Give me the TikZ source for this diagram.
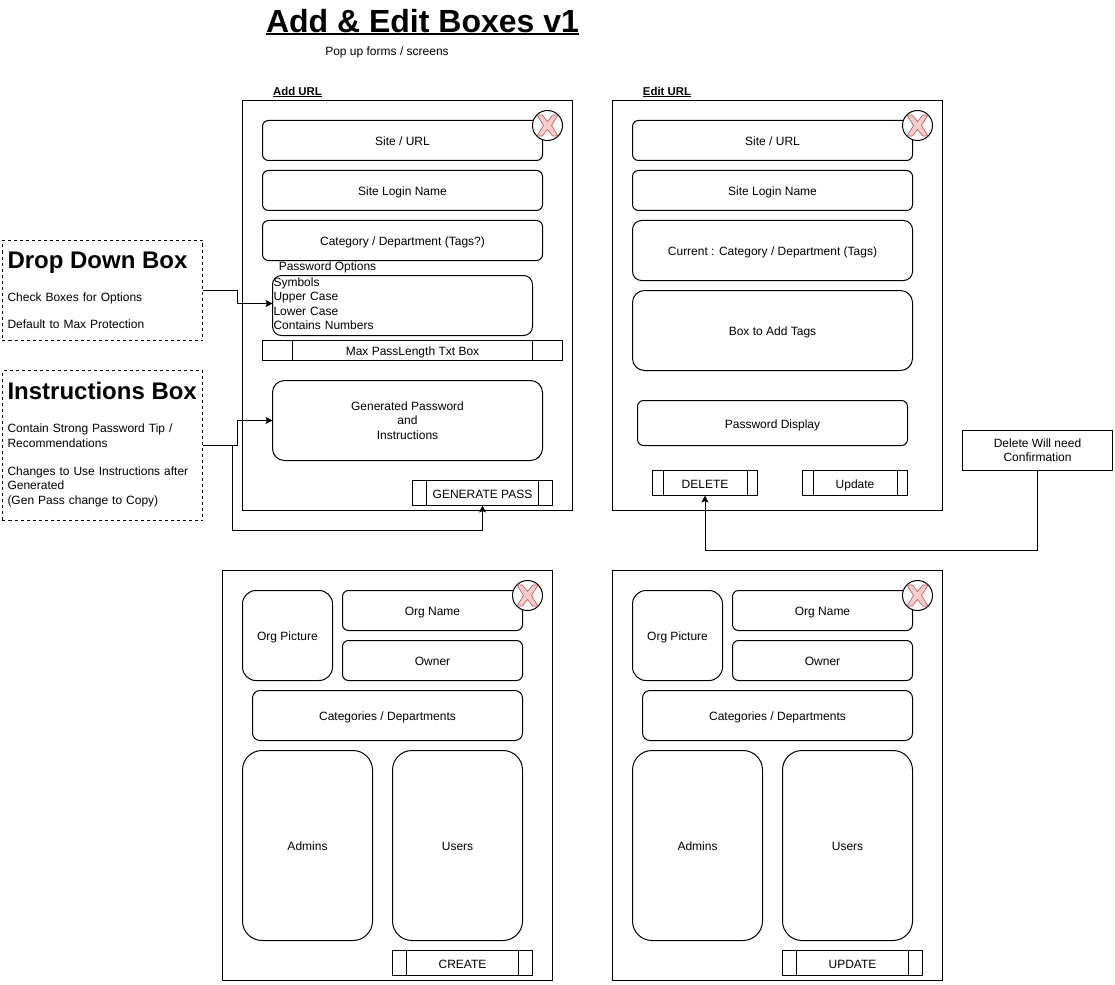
\documentclass[tikz,border=0pt]{standalone}
\usepackage{fontspec}
\setmainfont{Liberation Sans}
\usetikzlibrary{arrows.meta}

\definecolor{xfill}{HTML}{F8CECC}
\definecolor{xline}{HTML}{B85450}

\newsavebox{\ulsave}
\newcommand{\ultext}[3]{\sbox{\ulsave}{#1}\rlap{\usebox{\ulsave}}\raisebox{-#3}{\rule{\wd\ulsave}{#2}}}

\tikzset{
  every node/.style={font=\fontsize{12}{14.4}\selectfont,outer sep=0pt,inner sep=0pt,line width=1pt},
  oneline/.style={text height=12pt,text depth=2pt},
  frame/.style={draw,minimum width=330pt},
  field/.style={draw,oneline,rounded corners=#1},
  field/.default=6pt,
  procbox/.style={draw,oneline,path picture={
    \draw[line width=1pt] ([xshift=#1]path picture bounding box.north west) -- ([xshift=#1]path picture bounding box.south west);
    \draw[line width=1pt] ([xshift=-#1]path picture bounding box.north east) -- ([xshift=-#1]path picture bounding box.south east);}},
  note/.style={draw,dash pattern=on 3pt off 3pt,minimum width=200pt,text width=190pt,align=left,inner xsep=5pt},
  conn/.style={line width=1pt,-{Stealth[length=7pt,width=7pt,inset=1.5pt]}},
  closemark/.pic={
    \node[draw,circle,fill=white,minimum size=30pt] (c) at (0,0) {};
    \draw[xline,fill=xfill,line width=.6pt] (-10.5,-10.5) -- (-5.2,-10.5) -- (0,-4) -- (5.2,-10.5) -- (10.5,-10.5) -- (4,0) -- (10.5,10.5) -- (5.2,10.5) -- (0,4) -- (-5.2,10.5) -- (-10.5,10.5) -- (-4,0) -- cycle;
  }
}
\newcommand{\headfont}{\fontsize{24}{28}\bfseries\selectfont\spaceskip=6.67pt }

\begin{document}
\begin{tikzpicture}[x=1pt,y=-1pt,line width=1pt]
    \useasboundingbox (-0.5,-0.5) rectangle (1114.5,983.5);

    % headings
    \node[font=\fontsize{32}{38}\bfseries\selectfont] (title) at (422,21.5) {\ultext{Add \& Edit Boxes v1}{1.4pt}{2.6pt}};
    \node[oneline] (subtitle) at (386.5,50) {Pop up forms / screens};
    \node[font=\fontsize{11.4}{14}\bfseries\selectfont] (addlabel) at (297,91.7) {\ultext{Add URL}{1pt}{2.2pt}};
    \node[font=\fontsize{11.4}{14}\bfseries\selectfont] (editlabel) at (666.5,91.7) {\ultext{Edit URL}{1pt}{2.2pt}};

    % frames
    \node[frame,minimum height=410pt] (addframe) at (407,305) {};
    \node[frame,minimum height=410pt] (editframe) at (777,305) {};
    \node[frame,minimum height=410pt] (orgaddframe) at (387,775) {};
    \node[frame,minimum height=410pt] (orgeditframe) at (777,775) {};

    % add url
    \node[field,minimum width=280pt,minimum height=40pt] (addsite) at (402,140) {Site / URL};
    \node[field,minimum width=280pt,minimum height=40pt] (addlogin) at (402,190) {Site Login Name};
    \node[field,minimum width=280pt,minimum height=40pt] (addcat) at (402,240) {Category / Department (Tags?)};
    \node[oneline] (optlabel) at (327,264.5) {Password Options};
    \node[draw,rounded corners=9pt,minimum height=60pt,text width=258pt,align=left,inner xsep=1pt] (options) at (402,305)
      {Symbols\\Upper Case\\Lower Case\\Contains Numbers\rule[-3.6pt]{0pt}{3.6pt}};
    \node[procbox=30pt,minimum width=300pt,minimum height=20pt] (maxlen) at (412,350) {Max PassLength Txt Box};
    \node[draw,rounded corners=12pt,align=center,minimum width=270pt,minimum height=80pt] (genbox) at (407,420) {Generated Password\\and\\Instructions};
    \node[procbox=14pt,minimum width=140pt,minimum height=25pt] (genpass) at (482,492.5) {GENERATE PASS};

    % edit url
    \node[field,minimum width=280pt,minimum height=40pt] (editsite) at (772,140) {Site / URL};
    \node[field,minimum width=280pt,minimum height=40pt] (editlogin) at (772,190) {Site Login Name};
    \node[field=9pt,minimum width=280pt,minimum height=60pt] (editcat) at (772,250) {Current : Category / Department (Tags)};
    \node[field=12pt,minimum width=280pt,minimum height=80pt] (edittags) at (772,330) {Box to Add Tags};
    \node[field,minimum width=270pt,minimum height=45pt] (editpass) at (772,422.5) {Password Display};
    \node[procbox=10.5pt,minimum width=105pt,minimum height=25pt] (delbtn) at (704.5,482.5) {DELETE};
    \node[procbox=10.5pt,minimum width=105pt,minimum height=25pt] (updbtn) at (854.5,482.5) {Update};

    % org add
    \node[field=13.5pt,minimum width=90pt,minimum height=90pt] (apic) at (287,635) {Org Picture};
    \node[field,minimum width=180pt,minimum height=40pt] (aname) at (432,610) {Org Name};
    \node[field,minimum width=180pt,minimum height=40pt] (aowner) at (432,660) {Owner};
    \node[field=7.5pt,minimum width=270pt,minimum height=50pt] (acat) at (387,715) {Categories / Departments};
    \node[field=19.5pt,minimum width=130pt,minimum height=190pt] (aadmins) at (307,845) {Admins};
    \node[field=19.5pt,minimum width=130pt,minimum height=190pt] (ausers) at (457,845) {Users};
    \node[procbox=14pt,minimum width=140pt,minimum height=25pt] (createbtn) at (462,962.5) {CREATE};

    % org edit
    \node[field=13.5pt,minimum width=90pt,minimum height=90pt] (epic) at (677,635) {Org Picture};
    \node[field,minimum width=180pt,minimum height=40pt] (ename) at (822,610) {Org Name};
    \node[field,minimum width=180pt,minimum height=40pt] (eowner) at (822,660) {Owner};
    \node[field=7.5pt,minimum width=270pt,minimum height=50pt] (ecat) at (777,715) {Categories / Departments};
    \node[field=19.5pt,minimum width=130pt,minimum height=190pt] (eadmins) at (697,845) {Admins};
    \node[field=19.5pt,minimum width=130pt,minimum height=190pt] (eusers) at (847,845) {Users};
    \node[procbox=14pt,minimum width=140pt,minimum height=25pt] (updatebtn) at (852,962.5) {UPDATE};

    % close marks
    \pic (xa) at (547,125) {closemark};
    \pic (xb) at (917,125) {closemark};
    \pic (xc) at (527,595) {closemark};
    \pic (xd) at (917,595) {closemark};

    % side notes
    \node[note,minimum height=100pt] (dropbox) at (102,290) {{\headfont Drop Down Box}\\[18pt]Check Boxes for Options\\[12.6pt]Default to Max Protection};
    \node[note,minimum height=150pt] (instrbox) at (102,445) {{\headfont Instructions Box}\\[19pt]Contain Strong Password Tip /\\Recommendations\\[14pt]Changes to Use Instructions after\\Generated\\(Gen Pass change to Copy)\rule[-4.6pt]{0pt}{4.6pt}};
    \node[draw,minimum width=150pt,minimum height=40pt,align=center] (delnote) at (1037,450) {Delete Will need\\Confirmation};

    % connectors
    \coordinate (bendone) at (232,530);
    \coordinate (bendtwo) at (1037,550);
    \draw[conn] (dropbox.east) -- ++(35,0) |- ([yshift=2pt]options.west);
    \draw[conn] (instrbox.east) -- ++(35,0) |- (genbox.west);
    \draw[conn] (instrbox.east) -| (bendone) -| (genpass.south);
    \draw[conn] (delnote.south) -- (bendtwo) -| (delbtn.south);
\end{tikzpicture}
\end{document}
